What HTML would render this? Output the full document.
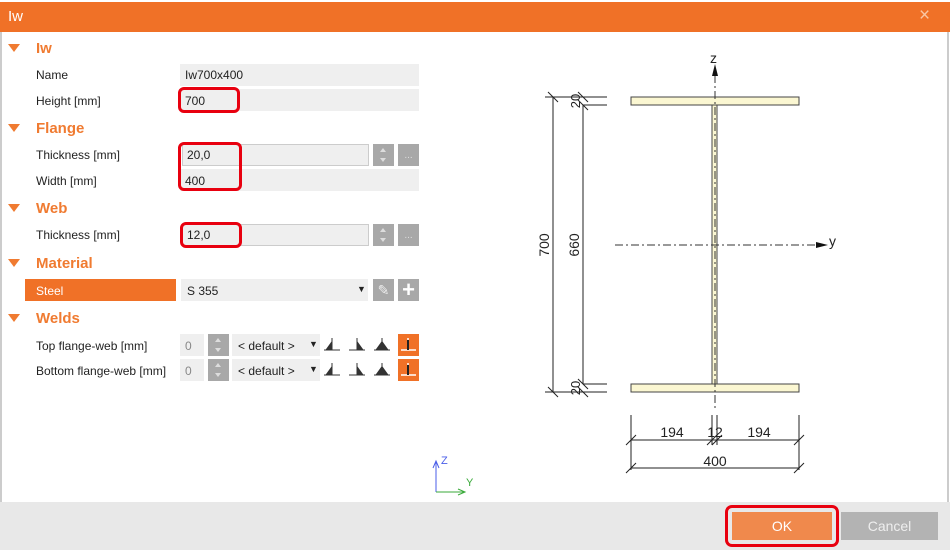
<!DOCTYPE html>
<html><head><style>
*{margin:0;padding:0;box-sizing:border-box}
body{width:950px;height:550px;position:relative;background:#fff;font-family:"Liberation Sans",sans-serif;overflow:hidden}
.a{position:absolute}
.t{position:absolute;font-size:12px;color:#222;white-space:nowrap}
.h{position:absolute;font-size:15px;font-weight:bold;color:#f07b31}
.tri{position:absolute;width:0;height:0;border-left:6px solid transparent;border-right:6px solid transparent;border-top:8px solid #f07b31}
.f{position:absolute;background:#efefef;height:22px}
.sp{position:absolute;background:#a8a8a8;width:21px;height:22px}
.sp:before{content:"";position:absolute;left:7px;top:4px;border-left:3px solid transparent;border-right:3px solid transparent;border-bottom:4px solid #ddd}
.sp:after{content:"";position:absolute;left:7px;top:14px;border-left:3px solid transparent;border-right:3px solid transparent;border-top:4px solid #ddd}
.dots{position:absolute;background:#a8a8a8;width:21px;height:22px;color:#ddd;font-size:10px;text-align:center;line-height:24px}
.red{position:absolute;border:3px solid #e8000f;border-radius:6px}
</style></head><body>
<div class="a" style="left:0;top:2px;width:950px;height:30px;background:#f07127"></div>
<div class="t" style="left:8px;top:8px;color:#fff;font-size:15px">Iw</div>
<div class="t" style="left:919px;top:5px;color:#f9c7a4;font-size:19px">×</div>
<div class="a" style="left:0;top:32px;width:2px;height:470px;background:#ccc"></div>
<div class="a" style="left:947px;top:32px;width:2px;height:470px;background:#ccc"></div>
<div class="a" style="left:0;top:502px;width:950px;height:48px;background:#e8e8e8"></div>

<div class="tri" style="left:8px;top:44px"></div><div class="h" style="left:36px;top:40px">Iw</div>
<div class="t" style="left:36px;top:68px">Name</div><div class="f" style="left:180px;top:64px;width:239px"></div><div class="t" style="left:185px;top:68px">Iw700x400</div>
<div class="t" style="left:36px;top:94px">Height [mm]</div><div class="f" style="left:180px;top:89px;width:239px"></div><div class="t" style="left:185px;top:94px">700</div>
<div class="tri" style="left:8px;top:124px"></div><div class="h" style="left:36px;top:120px">Flange</div>
<div class="t" style="left:36px;top:148px">Thickness [mm]</div><div class="f" style="left:182px;top:144px;width:187px;border:1px solid #ccc"></div><div class="t" style="left:187px;top:148px">20,0</div>
<div class="sp" style="left:373px;top:144px"></div><div class="dots" style="left:398px;top:144px">...</div>
<div class="t" style="left:36px;top:174px">Width [mm]</div><div class="f" style="left:180px;top:169px;width:239px"></div><div class="t" style="left:185px;top:174px">400</div>
<div class="tri" style="left:8px;top:204px"></div><div class="h" style="left:36px;top:200px">Web</div>
<div class="t" style="left:36px;top:228px">Thickness [mm]</div><div class="f" style="left:182px;top:224px;width:187px;border:1px solid #ccc"></div><div class="t" style="left:187px;top:228px">12,0</div>
<div class="sp" style="left:373px;top:224px"></div><div class="dots" style="left:398px;top:224px">...</div>
<div class="tri" style="left:8px;top:259px"></div><div class="h" style="left:36px;top:255px">Material</div>
<div class="a" style="left:25px;top:279px;width:151px;height:22px;background:#f07127"></div><div class="t" style="left:36px;top:284px;color:#fff">Steel</div>
<div class="f" style="left:181px;top:279px;width:187px"></div><div class="t" style="left:187px;top:284px">S 355</div><div class="t" style="left:357px;top:284px;font-size:9px">▼</div>
<div class="a" style="left:373px;top:279px;width:21px;height:22px;background:#a8a8a8;color:#eee;font-size:14px;text-align:center;line-height:22px">✎</div>
<div class="a" style="left:398px;top:279px;width:21px;height:22px;background:#a8a8a8;color:#fff;font-size:22px;font-weight:bold;text-align:center;line-height:22px">+</div>
<div class="tri" style="left:8px;top:314px"></div><div class="h" style="left:36px;top:310px">Welds</div>

<div class="t" style="left:36px;top:339px">Top flange-web [mm]</div>
<div class="t" style="left:36px;top:364px">Bottom flange-web [mm]</div>
<div class="f" style="left:180px;top:334px;width:24px"></div><div class="t" style="left:185px;top:339px;color:#888">0</div>
<div class="f" style="left:180px;top:359px;width:24px"></div><div class="t" style="left:185px;top:364px;color:#888">0</div>
<div class="sp" style="left:208px;top:334px"></div><div class="sp" style="left:208px;top:359px"></div>
<div class="f" style="left:232px;top:334px;width:88px"></div><div class="t" style="left:238px;top:339px">&lt; default &gt;</div><div class="t" style="left:309px;top:339px;font-size:9px">▼</div>
<div class="f" style="left:232px;top:359px;width:88px"></div><div class="t" style="left:238px;top:364px">&lt; default &gt;</div><div class="t" style="left:309px;top:364px;font-size:9px">▼</div>
<svg class="a" style="left:320px;top:330px" width="104" height="56">
<g fill="#333" stroke="#333" stroke-width="1">
<g id="w"><path d="M4 20h16M12 8v12" fill="none"/><path d="M11 13l-5 7h5z"/></g>
<use href="#w" y="25"/>
<g transform="translate(25,0)"><path d="M4 20h16M12 8v12" fill="none"/><path d="M13 13l5 7h-5z"/></g>
<g transform="translate(25,25)"><path d="M4 20h16M12 8v12" fill="none"/><path d="M13 13l5 7h-5z"/></g>
<g transform="translate(50,0)"><path d="M4 20h16M12 8v12" fill="none"/><path d="M11 13l-5 7h5zM13 13l5 7h-5z"/></g>
<g transform="translate(50,25)"><path d="M4 20h16M12 8v12" fill="none"/><path d="M11 13l-5 7h5zM13 13l5 7h-5z"/></g>
</g>
<rect x="78" y="4" width="21" height="22" fill="#f07127"/><rect x="78" y="29" width="21" height="22" fill="#f07127"/>
<path d="M81 20h15M88 8v12M81 45h15M88 33v12" stroke="#fff" stroke-width="1.5"/>
<path d="M88 10v10M88 35v10" stroke="#222" stroke-width="2"/>
</svg>

<div class="red" style="left:178px;top:87px;width:62px;height:26px"></div>
<div class="red" style="left:178px;top:142px;width:64px;height:49px"></div>
<div class="red" style="left:180px;top:222px;width:62px;height:26px"></div>

<svg class="a" style="left:0;top:0" width="950" height="502" font-family="Liberation Sans,sans-serif">
<rect x="631" y="97" width="168" height="8" fill="#fbf7d2" stroke="#444"/>
<rect x="631" y="384" width="168" height="8" fill="#fbf7d2" stroke="#444"/>
<rect x="712" y="105" width="5" height="279" fill="#fbf7d2" stroke="#444"/>
<line x1="715" y1="75" x2="715" y2="410" stroke="#333" stroke-dasharray="8,3,2,3"/>
<path d="M715 64l-3 12h6z" fill="#111"/><text x="710" y="63" font-size="14" fill="#222">z</text>
<line x1="615" y1="245" x2="815" y2="245" stroke="#333" stroke-dasharray="8,3,2,3"/>
<path d="M828 245l-12 -3v6z" fill="#111"/><text x="829" y="246" font-size="14" fill="#222">y</text>
<g stroke="#222" stroke-width="1" fill="none">
<path d="M545 97h62M545 392h62M583 105h24M583 384h24"/>
<path d="M553 97v295M583 105v279"/>
<path d="M548 92l10 10M548 387l10 10M578 92l10 10M578 100l10 10M578 379l10 10M578 387l10 10"/>
<path d="M631 415v55M712 415v30M717 415v30M799 415v55"/>
<path d="M631 440h168M631 468h168"/>
<path d="M626 445l10 -10M707 445l10 -10M712 445l10 -10M794 445l10 -10M626 473l10 -10M794 473l10 -10"/>
</g>
<g font-size="14" fill="#222">
<text transform="translate(549,245) rotate(-90)" text-anchor="middle">700</text>
<text transform="translate(579,245) rotate(-90)" text-anchor="middle">660</text>
<text transform="translate(580,101) rotate(-90)" text-anchor="middle" font-size="13">20</text>
<text transform="translate(580,388) rotate(-90)" text-anchor="middle" font-size="13">20</text>
<text x="672" y="437" text-anchor="middle">194</text>
<text x="715" y="437" text-anchor="middle">12</text>
<text x="759" y="437" text-anchor="middle">194</text>
<text x="715" y="466" text-anchor="middle">400</text>
</g>
<path d="M436 462v30M433 468l3 -7 3 7" stroke="#4a5ee8" fill="none"/>
<text x="441" y="464" font-size="11" fill="#4a5ee8">Z</text>
<path d="M436 492h28M458 489l7 3-7 3" stroke="#3aaa3a" fill="none"/>
<text x="466" y="486" font-size="11" fill="#3aaa3a">Y</text>
</svg>

<div class="a" style="left:732px;top:512px;width:100px;height:28px;background:#f0894c;color:#fff;font-size:14px;text-align:center;line-height:28px">OK</div>
<div class="red" style="left:725px;top:505px;width:114px;height:42px;border-radius:7px"></div>
<div class="a" style="left:841px;top:512px;width:97px;height:28px;background:#b3b3b3;color:#eee;font-size:14px;text-align:center;line-height:28px">Cancel</div>
</body></html>
